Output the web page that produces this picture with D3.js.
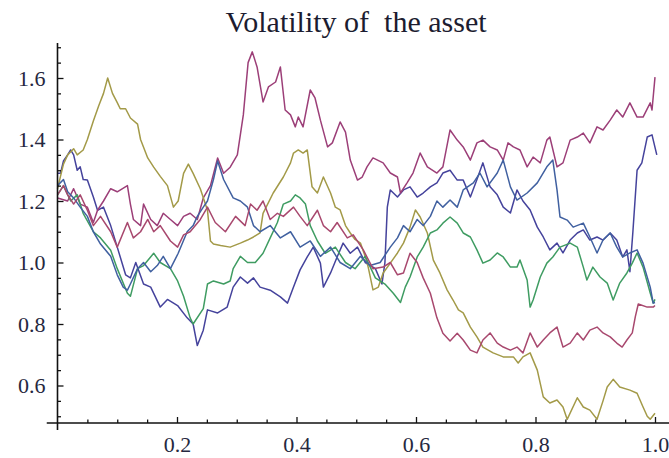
<!DOCTYPE html>
<html>
<head>
<meta charset="utf-8">
<script src="https://cdn.jsdelivr.net/npm/d3@7"></script>
<style>
  html, body { margin: 0; padding: 0; background: #ffffff; }
  svg { display: block; }
  .tick text { font-family: "Liberation Serif", "Times New Roman", serif; }
</style>
</head>
<body>
<div id="chart"></div>
<script>
// Simulated volatility paths, each as [time, volatility] pairs
const titleText = "Volatility of  the asset";

const pathPurple = [[0,1.29],[0.005,1.29],[0.010,1.33],[0.017,1.35],[0.022,1.366],[0.027,1.35],[0.033,1.30],[0.038,1.311],[0.043,1.27],[0.050,1.268],[0.060,1.213],[0.067,1.17],[0.077,1.18],[0.089,1.12],[0.100,1.05],[0.114,0.96],[0.122,0.95],[0.131,1.00],[0.144,0.93],[0.156,0.92],[0.172,0.855],[0.184,0.88],[0.201,0.86],[0.217,0.82],[0.227,0.80],[0.234,0.73],[0.244,0.78],[0.251,0.846],[0.268,0.836],[0.284,0.855],[0.294,0.92],[0.306,0.953],[0.318,0.933],[0.328,0.95],[0.339,0.92],[0.356,0.91],[0.373,0.888],[0.385,0.868],[0.395,0.92],[0.406,0.976],[0.418,1.018],[0.428,1.05],[0.440,0.998],[0.445,0.92],[0.457,0.966],[0.468,1.018],[0.478,1.063],[0.490,1.03],[0.502,1.05],[0.515,1.0],[0.532,0.98],[0.543,0.93],[0.548,1.00],[0.552,1.18],[0.557,1.236],[0.569,1.213],[0.579,1.236],[0.590,1.246],[0.602,1.213],[0.612,1.226],[0.624,1.246],[0.635,1.259],[0.645,1.291],[0.657,1.30],[0.669,1.268],[0.679,1.268],[0.691,1.213],[0.702,1.27],[0.712,1.324],[0.724,1.246],[0.736,1.22],[0.746,1.18],[0.758,1.161],[0.769,1.236],[0.779,1.20],[0.791,1.171],[0.803,1.115],[0.813,1.083],[0.824,1.041],[0.836,1.063],[0.846,1.031],[0.858,1.073],[0.870,1.096],[0.880,1.106],[0.891,1.073],[0.903,1.083],[0.913,1.073],[0.925,1.096],[0.936,1.073],[0.946,1.018],[0.953,1.041],[0.958,0.97],[0.963,1.10],[0.970,1.30],[0.978,1.324],[0.987,1.408],[0.995,1.415],[1.003,1.35]];

const pathMagenta = [[0,1.21],[0.017,1.20],[0.027,1.24],[0.038,1.19],[0.050,1.18],[0.060,1.13],[0.067,1.17],[0.077,1.20],[0.089,1.24],[0.100,1.23],[0.117,1.25],[0.122,1.19],[0.127,1.14],[0.139,1.12],[0.144,1.19],[0.156,1.14],[0.167,1.12],[0.177,1.16],[0.189,1.14],[0.201,1.12],[0.211,1.15],[0.222,1.16],[0.234,1.14],[0.244,1.21],[0.256,1.25],[0.268,1.34],[0.278,1.29],[0.289,1.31],[0.301,1.35],[0.311,1.48],[0.319,1.65],[0.326,1.685],[0.334,1.636],[0.344,1.522],[0.353,1.571],[0.365,1.587],[0.373,1.636],[0.381,1.496],[0.390,1.48],[0.398,1.441],[0.403,1.473],[0.411,1.441],[0.423,1.561],[0.431,1.535],[0.440,1.463],[0.452,1.376],[0.460,1.389],[0.473,1.457],[0.482,1.424],[0.490,1.333],[0.502,1.268],[0.510,1.278],[0.518,1.311],[0.528,1.34],[0.545,1.324],[0.557,1.291],[0.569,1.278],[0.574,1.226],[0.585,1.259],[0.595,1.291],[0.607,1.356],[0.619,1.311],[0.635,1.291],[0.645,1.311],[0.657,1.431],[0.669,1.398],[0.679,1.376],[0.691,1.333],[0.702,1.389],[0.712,1.398],[0.724,1.376],[0.736,1.366],[0.746,1.333],[0.754,1.389],[0.763,1.376],[0.774,1.366],[0.786,1.311],[0.796,1.343],[0.808,1.324],[0.819,1.398],[0.824,1.408],[0.836,1.311],[0.846,1.324],[0.858,1.398],[0.870,1.408],[0.880,1.421],[0.891,1.389],[0.903,1.441],[0.913,1.431],[0.925,1.463],[0.936,1.496],[0.946,1.473],[0.958,1.519],[0.970,1.473],[0.980,1.473],[0.992,1.519],[0.995,1.496],[1.000,1.603]];

const pathOlive = [[0,1.24],[0.005,1.28],[0.010,1.32],[0.017,1.35],[0.027,1.37],[0.033,1.35],[0.043,1.366],[0.050,1.40],[0.060,1.46],[0.069,1.51],[0.077,1.55],[0.084,1.60],[0.092,1.55],[0.100,1.52],[0.105,1.50],[0.114,1.50],[0.122,1.47],[0.134,1.45],[0.139,1.40],[0.151,1.34],[0.161,1.31],[0.172,1.28],[0.184,1.25],[0.194,1.18],[0.202,1.20],[0.211,1.29],[0.219,1.32],[0.227,1.29],[0.239,1.24],[0.251,1.17],[0.256,1.07],[0.261,1.06],[0.273,1.055],[0.289,1.05],[0.306,1.063],[0.318,1.073],[0.328,1.083],[0.339,1.096],[0.344,1.16],[0.361,1.226],[0.378,1.278],[0.390,1.324],[0.395,1.356],[0.403,1.366],[0.411,1.356],[0.418,1.366],[0.426,1.246],[0.435,1.226],[0.445,1.278],[0.457,1.226],[0.465,1.18],[0.473,1.171],[0.482,1.12],[0.490,1.096],[0.498,1.075],[0.507,1.063],[0.515,1.02],[0.520,0.985],[0.528,0.911],[0.537,0.92],[0.545,0.966],[0.557,0.998],[0.569,1.031],[0.579,1.063],[0.590,1.115],[0.599,1.171],[0.607,1.148],[0.619,1.096],[0.629,1.008],[0.640,0.966],[0.652,0.911],[0.662,0.878],[0.671,0.846],[0.679,0.836],[0.691,0.790],[0.702,0.758],[0.712,0.725],[0.729,0.706],[0.746,0.693],[0.763,0.693],[0.771,0.673],[0.779,0.693],[0.791,0.706],[0.803,0.65],[0.813,0.563],[0.824,0.543],[0.836,0.553],[0.846,0.53],[0.853,0.49],[0.870,0.56],[0.880,0.53],[0.891,0.52],[0.903,0.49],[0.913,0.55],[0.920,0.595],[0.930,0.62],[0.941,0.595],[0.958,0.585],[0.970,0.575],[0.980,0.53],[0.987,0.50],[0.992,0.49],[1.000,0.51]];

const pathGreen = [[0,1.22],[0.010,1.25],[0.022,1.20],[0.033,1.22],[0.043,1.16],[0.060,1.10],[0.072,1.08],[0.089,1.04],[0.100,0.98],[0.117,0.90],[0.122,0.89],[0.134,0.98],[0.144,0.99],[0.161,1.03],[0.172,1.00],[0.189,0.98],[0.201,0.94],[0.211,0.89],[0.222,0.82],[0.227,0.80],[0.244,0.85],[0.251,0.93],[0.261,0.94],[0.278,0.93],[0.289,0.94],[0.294,0.98],[0.306,1.02],[0.318,1.00],[0.331,1.00],[0.344,1.03],[0.356,1.08],[0.368,1.13],[0.378,1.19],[0.390,1.20],[0.398,1.22],[0.406,1.21],[0.415,1.19],[0.423,1.12],[0.435,1.07],[0.448,1.03],[0.465,1.05],[0.482,1.00],[0.498,0.98],[0.515,1.02],[0.532,0.95],[0.548,0.93],[0.562,0.90],[0.574,0.87],[0.582,0.92],[0.590,0.953],[0.602,1.018],[0.612,1.05],[0.624,1.096],[0.635,1.106],[0.645,1.128],[0.657,1.148],[0.669,1.128],[0.679,1.096],[0.691,1.083],[0.702,1.041],[0.712,0.998],[0.724,1.008],[0.736,1.031],[0.746,1.018],[0.758,0.985],[0.769,0.985],[0.774,1.008],[0.786,0.943],[0.791,0.855],[0.796,0.878],[0.808,0.953],[0.819,0.998],[0.829,1.018],[0.841,1.05],[0.858,1.063],[0.870,1.05],[0.880,0.985],[0.886,0.943],[0.896,0.985],[0.908,0.953],[0.920,0.933],[0.930,0.878],[0.941,0.933],[0.953,0.966],[0.962,0.998],[0.970,1.031],[0.980,0.985],[0.992,0.901],[0.997,0.868],[1.000,0.88]];

const pathBlue = [[0,1.25],[0.010,1.27],[0.017,1.23],[0.027,1.21],[0.038,1.18],[0.050,1.15],[0.060,1.10],[0.072,1.06],[0.089,1.02],[0.100,0.96],[0.110,0.92],[0.117,0.91],[0.122,0.93],[0.134,0.98],[0.144,1.00],[0.156,0.97],[0.167,0.99],[0.177,1.02],[0.189,0.98],[0.202,1.03],[0.217,1.10],[0.227,1.12],[0.234,1.15],[0.244,1.18],[0.251,1.20],[0.261,1.27],[0.268,1.33],[0.278,1.27],[0.294,1.21],[0.306,1.20],[0.318,1.18],[0.328,1.12],[0.339,1.10],[0.356,1.12],[0.373,1.08],[0.390,1.10],[0.406,1.05],[0.423,1.07],[0.440,1.02],[0.457,1.05],[0.473,1.00],[0.490,0.98],[0.507,1.02],[0.523,0.99],[0.540,1.00],[0.557,1.05],[0.569,1.08],[0.579,1.12],[0.590,1.10],[0.602,1.14],[0.612,1.12],[0.624,1.15],[0.635,1.20],[0.645,1.18],[0.657,1.203],[0.669,1.18],[0.679,1.236],[0.696,1.259],[0.707,1.291],[0.719,1.246],[0.736,1.291],[0.746,1.333],[0.758,1.246],[0.769,1.203],[0.786,1.226],[0.803,1.259],[0.819,1.311],[0.829,1.333],[0.836,1.236],[0.841,1.148],[0.853,1.138],[0.863,1.115],[0.880,1.128],[0.891,1.083],[0.903,1.031],[0.913,1.073],[0.925,1.096],[0.936,1.05],[0.946,1.018],[0.958,1.031],[0.970,1.041],[0.980,0.998],[0.992,0.92],[0.997,0.868],[1.000,0.87]];

const pathPink = [[0,1.22],[0.010,1.25],[0.017,1.22],[0.027,1.19],[0.038,1.22],[0.050,1.17],[0.060,1.12],[0.072,1.15],[0.089,1.10],[0.100,1.05],[0.117,1.13],[0.127,1.08],[0.139,1.10],[0.151,1.14],[0.161,1.10],[0.172,1.12],[0.189,1.07],[0.201,1.05],[0.211,1.09],[0.222,1.10],[0.239,1.14],[0.251,1.18],[0.264,1.13],[0.281,1.10],[0.298,1.15],[0.314,1.12],[0.323,1.19],[0.334,1.17],[0.344,1.20],[0.356,1.14],[0.368,1.16],[0.378,1.15],[0.395,1.18],[0.406,1.15],[0.418,1.12],[0.435,1.17],[0.445,1.12],[0.457,1.10],[0.468,1.13],[0.485,1.08],[0.495,1.09],[0.512,1.04],[0.528,0.98],[0.545,0.985],[0.557,1.0],[0.569,0.96],[0.579,0.966],[0.590,1.03],[0.602,1.00],[0.612,0.95],[0.624,0.90],[0.635,0.82],[0.645,0.77],[0.657,0.745],[0.669,0.77],[0.679,0.748],[0.691,0.715],[0.702,0.706],[0.712,0.748],[0.724,0.771],[0.736,0.738],[0.746,0.725],[0.758,0.715],[0.769,0.725],[0.779,0.706],[0.791,0.771],[0.803,0.725],[0.813,0.748],[0.824,0.771],[0.836,0.79],[0.846,0.725],[0.858,0.738],[0.870,0.771],[0.880,0.748],[0.891,0.78],[0.903,0.79],[0.913,0.771],[0.925,0.758],[0.936,0.738],[0.945,0.725],[0.953,0.748],[0.962,0.771],[0.967,0.823],[0.972,0.865],[0.987,0.855],[0.997,0.855],[1.000,0.86]];

// Default plot style hues, drawn in this order
const seriesList = [pathPurple, pathMagenta, pathOlive, pathGreen, pathBlue, pathPink];
const seriesColors = ["#45439c", "#9c3f78", "#a39a48", "#3f9c62", "#4060a0", "#a8486e"];

// Axis ticks
const xMajorTicks = [0.2, 0.4, 0.6, 0.8, 1.0];
const xMinorTicks = [0.05, 0.1, 0.15, 0.25, 0.3, 0.35, 0.45, 0.5, 0.55, 0.65, 0.7, 0.75, 0.85, 0.9, 0.95];
const yMajorTicks = [0.6, 0.8, 1.0, 1.2, 1.4, 1.6];
const yMinorTicks = [0.5, 0.55, 0.65, 0.7, 0.75, 0.85, 0.9, 0.95, 1.05, 1.1, 1.15, 1.25, 1.3, 1.35, 1.45, 1.5, 1.55, 1.65, 1.7];
const axisCross = 0.478;   // value where the time axis crosses

const width = 669, height = 458;
const svg = d3.select("#chart").append("svg")
  .attr("width", width).attr("height", height);

const x = d3.scaleLinear().domain([0, 1]).range([57.5, 655]);
const y = d3.scaleLinear().domain([0.5, 1.7]).range([416.25, 47.25]);

const axisColor = "#111";
const fontFam = '"Liberation Serif", "Times New Roman", serif';

// Paths
const line = d3.line().x(d => x(d[0])).y(d => y(d[1]));
svg.append("g").selectAll("path")
  .data(seriesList)
  .join("path")
  .attr("d", d => line(d))
  .attr("fill", "none")
  .attr("stroke", (d, i) => seriesColors[i])
  .attr("stroke-width", 1.5)
  .attr("stroke-linejoin", "round");

// Time axis
const xAxisY = y(axisCross);
const gx = svg.append("g").attr("transform", `translate(0,${xAxisY})`);
gx.append("g").call(d3.axisBottom(x).tickValues(xMajorTicks).tickSizeInner(-6).tickSizeOuter(0)
    .tickPadding(0).tickFormat(d3.format(".1f")))
  .call(g => g.select(".domain").remove())
  .call(g => g.selectAll("line").attr("stroke", axisColor).attr("stroke-width", 1.3))
  .call(g => g.selectAll("text").attr("y", 29).attr("dy", null)
      .attr("fill", "#262840").style("font-size", "22px").style("font-family", fontFam));
gx.append("g").call(d3.axisBottom(x).tickValues(xMinorTicks).tickSizeInner(-3.5).tickSizeOuter(0).tickFormat(""))
  .call(g => g.select(".domain").remove())
  .call(g => g.selectAll("line").attr("stroke", axisColor).attr("stroke-width", 1.3));
gx.append("line")
  .attr("x1", x(-0.018)).attr("x2", x(1.03))
  .attr("stroke", axisColor).attr("stroke-width", 1.6);

// Volatility axis
const gy = svg.append("g").attr("transform", `translate(${x(0)},0)`);
gy.append("g").call(d3.axisLeft(y).tickValues(yMajorTicks).tickSizeInner(-6).tickSizeOuter(0)
    .tickPadding(12).tickFormat(d3.format(".1f")))
  .call(g => g.select(".domain").remove())
  .call(g => g.selectAll("line").attr("stroke", axisColor).attr("stroke-width", 1.3))
  .call(g => g.selectAll("text").attr("fill", "#262840").style("font-size", "22px").style("font-family", fontFam));
gy.append("g").call(d3.axisLeft(y).tickValues(yMinorTicks).tickSizeInner(-3.5).tickSizeOuter(0).tickFormat(""))
  .call(g => g.select(".domain").remove())
  .call(g => g.selectAll("line").attr("stroke", axisColor).attr("stroke-width", 1.3));
gy.append("line")
  .attr("y1", y(1.714)).attr("y2", y(0.455))
  .attr("stroke", axisColor).attr("stroke-width", 1.6);

// Title
svg.append("text")
  .attr("x", 356).attr("y", 32)
  .attr("text-anchor", "middle")
  .attr("fill", "#1c1c30")
  .style("font-family", fontFam)
  .style("font-size", "30px")
  .style("white-space", "pre")
  .text(titleText);
</script>
</body>
</html>
